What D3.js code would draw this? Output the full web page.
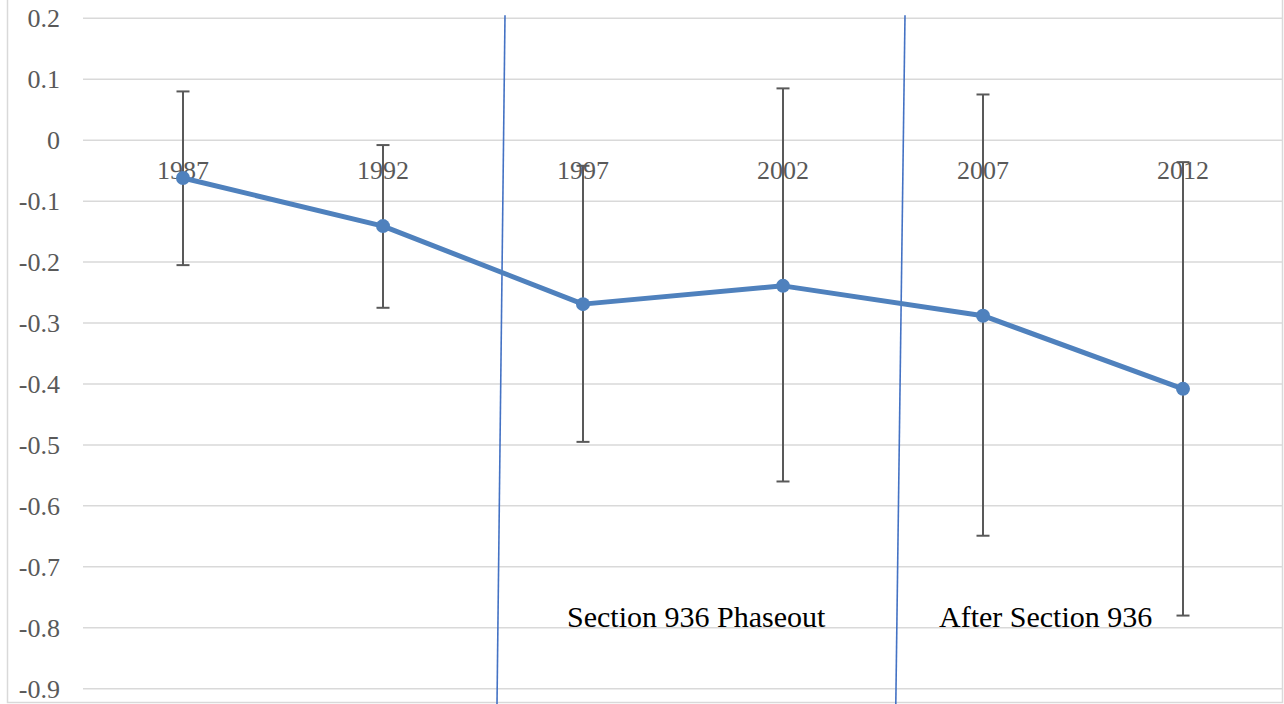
<!DOCTYPE html>
<html>
<head>
<meta charset="utf-8">
<script src="https://cdn.jsdelivr.net/npm/d3@7"></script>
<style>
  body { margin: 0; background: #fff; }
  svg { display: block; }
</style>
</head>
<body>
<div id="chart"></div>
<script>
// data
const years = ["1987", "1992", "1997", "2002", "2007", "2012"];
const values = [-0.062, -0.141, -0.269, -0.239, -0.288, -0.408];
const errHigh = [0.080, -0.008, -0.042, 0.085, 0.075, -0.036];
const errLow = [-0.205, -0.275, -0.495, -0.560, -0.649, -0.780];
const yTicks = [0.2, 0.1, 0, -0.1, -0.2, -0.3, -0.4, -0.5, -0.6, -0.7, -0.8, -0.9];

// period markers (in years) and their labels
const periodLines = [
  { top: 1995.05, bottom: 1994.85 },
  { top: 2005.05, bottom: 2004.82 }
];
const periodLabels = [
  { year: 1996.6, text: "Section 936 Phaseout" },
  { year: 2005.9, text: "After Section 936" }
];

const width = 1284;
const height = 704;
const plotLeft = 83;
const plotRight = 1283;

const serif = "'Liberation Serif', 'DejaVu Serif', serif";

const svg = d3.select("#chart").append("svg")
    .attr("width", width)
    .attr("height", height)
    .attr("viewBox", [0, 0, width, height]);

const x = d3.scaleBand(years, [plotLeft, plotRight]).padding(0);
const y = d3.scaleLinear([-0.9, 0.2], [688.7, 18.3]);
const cx = d => x(d) + x.bandwidth() / 2;

// linear year scale for annotation lines between categories
const yearScale = d3.scaleLinear([+years[0], +years[years.length - 1]], [cx(years[0]), cx(years[years.length - 1])]);

// outer border
svg.append("rect")
    .attr("x", 7.5)
    .attr("y", -2)
    .attr("width", 1275)
    .attr("height", 704.5)
    .attr("fill", "none")
    .attr("stroke", "#d9d9d9")
    .attr("stroke-width", 1.5);

// gridlines
svg.append("g")
    .selectAll("line")
    .data(yTicks)
    .join("line")
    .attr("x1", plotLeft)
    .attr("x2", plotRight)
    .attr("y1", d => y(d))
    .attr("y2", d => y(d))
    .attr("stroke", "#d9d9d9")
    .attr("stroke-width", 1.5);

// y tick labels
svg.append("g")
    .selectAll("text")
    .data(yTicks)
    .join("text")
    .attr("x", 60)
    .attr("y", d => y(d))
    .attr("dy", "0.35em")
    .attr("text-anchor", "end")
    .attr("font-family", serif)
    .attr("font-size", 26)
    .attr("fill", "#595959")
    .text(d => d === 0 ? "0" : d3.format(".1f")(d).replace("−", "-"));

// category labels sit just under the zero line
svg.append("g")
    .selectAll("text")
    .data(years)
    .join("text")
    .attr("x", d => cx(d))
    .attr("y", y(0) + 39)
    .attr("text-anchor", "middle")
    .attr("font-family", serif)
    .attr("font-size", 26)
    .attr("fill", "#595959")
    .text(d => d);

// period divider lines
svg.append("g")
    .selectAll("line")
    .data(periodLines)
    .join("line")
    .attr("x1", d => yearScale(d.top))
    .attr("y1", y(0.205))
    .attr("x2", d => yearScale(d.bottom))
    .attr("y2", y(-0.926))
    .attr("stroke", "#4472c4")
    .attr("stroke-width", 1.6);

svg.append("g")
    .selectAll("text")
    .data(periodLabels)
    .join("text")
    .attr("x", d => yearScale(d.year))
    .attr("y", y(-0.8) - 1)
    .attr("font-family", serif)
    .attr("font-size", 30)
    .attr("fill", "#000")
    .text(d => d.text);

// error bars
const eb = svg.append("g")
    .attr("stroke", "#595959")
    .attr("stroke-width", 2)
    .selectAll("g")
    .data(years)
    .join("g");

eb.append("line")
    .attr("x1", d => cx(d))
    .attr("x2", d => cx(d))
    .attr("y1", (d, i) => y(errHigh[i]))
    .attr("y2", (d, i) => y(errLow[i]));

eb.append("line")
    .attr("x1", d => cx(d) - 6.5)
    .attr("x2", d => cx(d) + 6.5)
    .attr("y1", (d, i) => y(errHigh[i]))
    .attr("y2", (d, i) => y(errHigh[i]));

eb.append("line")
    .attr("x1", d => cx(d) - 6.5)
    .attr("x2", d => cx(d) + 6.5)
    .attr("y1", (d, i) => y(errLow[i]))
    .attr("y2", (d, i) => y(errLow[i]));

// series line + markers
const line = d3.line()
    .x((d, i) => cx(years[i]))
    .y(d => y(d));

svg.append("path")
    .datum(values)
    .attr("fill", "none")
    .attr("stroke", "#4f81bd")
    .attr("stroke-width", 5)
    .attr("stroke-linejoin", "round")
    .attr("d", line);

svg.append("g")
    .selectAll("circle")
    .data(values)
    .join("circle")
    .attr("cx", (d, i) => cx(years[i]))
    .attr("cy", d => y(d))
    .attr("r", 7)
    .attr("fill", "#4f81bd");
</script>
</body>
</html>
